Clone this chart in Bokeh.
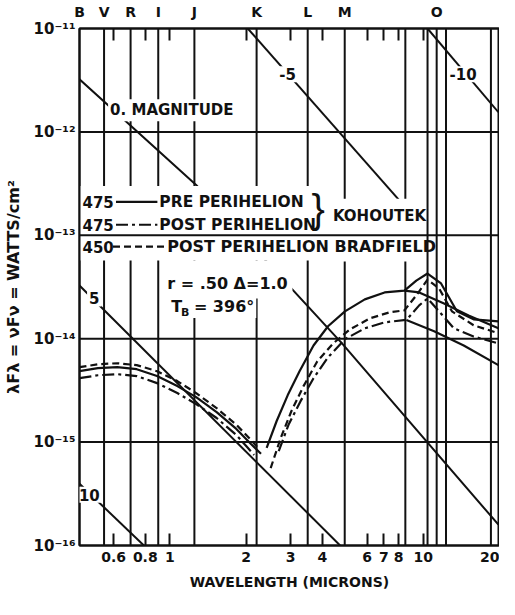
import numpy as np
from bokeh.plotting import figure
from bokeh.models import (FixedTicker, CustomJSTickFormatter, LogAxis, Span, Label, Range1d)
from bokeh.embed import file_html
from bokeh.resources import INLINE

# ---------------- data ----------------
band_names = ["B", "V", "R", "I", "J", "K", "L", "M", "O"]
band_label_wl = [0.4405, 0.55, 0.70, 0.90, 1.25, 2.2, 3.5, 4.9, 11.3]
filter_lines_wl = [0.55, 0.70, 0.90, 1.25, 2.2, 3.5, 4.9, 8.5, 10.4, 11.3, 12.3, 18.5]
x_ticks = [0.6, 0.8, 1, 2, 3, 4, 6, 7, 8, 10, 20]
x_tick_labels = ["0.6", "0.8", "1", "2", "3", "4", "6", "7", "8", "10", "20"]
y_ticks = [1e-16, 1e-15, 1e-14, 1e-13, 1e-12, 1e-11]
y_tick_labels = ["10\u207b\u00b9\u2076", "10\u207b\u00b9\u2075", "10\u207b\u00b9\u2074",
                 "10\u207b\u00b9\u00b3", "10\u207b\u00b9\u00b2", "10\u207b\u00b9\u00b9"]
grid_flux = [1e-12, 1e-13, 1e-14, 1e-15]

# magnitude reference lines (wavelength in microns, lambda F_lambda in W/cm^2)
mag0_wl = [0.44, 1.27, 4.78, 19.8]
mag0_f = [3.23e-12, 3.07e-13, 9.0e-15, 1.59e-16]
mag5_wl = [0.44, 4.70]
mag5_f = [3.27e-14, 1.0e-16]
mag10_wl = [0.44, 0.79]
mag10_f = [3.95e-16, 1.0e-16]
magm5_wl = [2.03, 8.28]
magm5_f = [1.0e-11, 2.01e-13]
magm10_wl = [10.4, 19.8]
magm10_f = [1.0e-11, 1.55e-12]

# Kohoutek 475 pre perihelion (solid)
pre_refl_wl = [0.44, 0.52, 0.62, 0.74, 0.89, 1.07, 1.27, 1.53, 1.83, 2.09, 2.29]
pre_refl_f = [4.85e-15, 5.19e-15, 5.30e-15, 5.07e-15, 4.35e-15, 3.48e-15, 2.72e-15,
              1.95e-15, 1.34e-15, 9.6e-16, 7.7e-16]
pre_therm_wl = [2.41, 2.64, 2.92, 3.25, 3.69, 4.21, 4.91, 5.88, 7.04, 8.43, 9.39, 10.4,
                11.76, 13.58, 15.8, 19.8]
pre_therm_f = [8.8e-16, 1.60e-15, 2.85e-15, 4.85e-15, 8.6e-15, 1.32e-14, 1.84e-14, 2.40e-14,
               2.80e-14, 2.92e-14, 3.65e-14, 4.27e-14, 3.42e-14, 1.84e-14, 1.54e-14, 1.47e-14]
pre_smooth_wl = [8.43, 9.64, 12.08, 15.1, 19.8]
pre_smooth_f = [2.92e-14, 2.80e-14, 2.19e-14, 1.68e-14, 1.26e-14]

# Kohoutek 475 post perihelion (dash-dot)
post_refl_wl = [0.44, 0.52, 0.62, 0.74, 0.89, 1.07, 1.27, 1.53, 1.83, 2.03, 2.15]
post_refl_f = [4.15e-15, 4.43e-15, 4.54e-15, 4.35e-15, 3.72e-15, 2.98e-15, 2.33e-15,
               1.71e-15, 1.17e-15, 8.8e-16, 7.5e-16]
post_therm_wl = [2.69, 2.94, 3.28, 3.69, 4.21, 4.91, 5.88, 7.04, 8.58, 9.64, 10.4, 11.55,
                 13.2, 15.8, 19.8]
post_therm_f = [8.2e-16, 1.47e-15, 2.49e-15, 4.15e-15, 6.6e-15, 9.9e-15, 1.26e-14, 1.44e-14,
                1.52e-14, 2.10e-14, 2.45e-14, 1.84e-14, 1.26e-14, 1.05e-14, 9.0e-15]
post_smooth_wl = [8.58, 11.04, 14.45, 19.8]
post_smooth_f = [1.52e-14, 1.18e-14, 8.6e-15, 5.55e-15]

# Bradfield 450 post perihelion (dashed)
brad_refl_wl = [0.44, 0.52, 0.62, 0.74, 0.89, 1.07, 1.27, 1.53, 1.83, 2.09, 2.23]
brad_refl_f = [5.30e-15, 5.66e-15, 5.79e-15, 5.55e-15, 4.85e-15, 3.89e-15, 2.98e-15,
               2.13e-15, 1.47e-15, 1.05e-15, 8.8e-16]
brad_therm_wl = [2.50, 2.74, 3.02, 3.37, 3.82, 4.41, 5.14, 6.15, 7.36, 8.43, 9.39, 10.4,
                 11.55, 12.98, 15.8, 19.8]
brad_therm_f = [5.6e-16, 1.10e-15, 2.0e-15, 3.48e-15, 6.05e-15, 9.0e-15, 1.23e-14, 1.57e-14,
                1.80e-14, 1.88e-14, 2.62e-14, 3.73e-14, 3.06e-14, 1.84e-14, 1.35e-14, 1.13e-14]

# ---------------- figure ----------------
X0, X1 = 0.44, 20.0
Y0, Y1 = 1e-16, 1e-11
FW, FH = 426, 519
FONT = "DejaVu Sans"
INK = "#111111"


def at(px, py):
    lam = 10 ** (np.log10(X0) + px / FW * np.log10(X1 / X0))
    f = 10 ** (np.log10(Y1) - py / FH * np.log10(Y1 / Y0))
    return float(lam), float(f)


p = figure(width=499, height=599, x_axis_type="log", y_axis_type="log",
           x_range=Range1d(X0, X1), y_range=Range1d(Y0, Y1),
           output_backend="svg", toolbar_location=None,
           min_border_left=73, min_border_right=0, min_border_top=26, min_border_bottom=54)
p.xgrid.visible = False
p.ygrid.visible = False
p.outline_line_color = INK
p.outline_line_width = 2
p.background_fill_color = "white"
p.border_fill_color = "white"

fmt_code = """
for (let i = 0; i < tv.length; i++) {
  if (Math.abs(tv[i] - tick) <= 1e-6 * Math.abs(tv[i])) return tl[i];
}
return "";
"""

xa = p.xaxis[0]
xa.ticker = FixedTicker(ticks=x_ticks, minor_ticks=[])
xa.formatter = CustomJSTickFormatter(args=dict(tv=x_ticks, tl=x_tick_labels), code=fmt_code)
xa.major_tick_in = 12
xa.major_tick_out = 0
xa.major_tick_line_width = 2
xa.major_tick_line_color = INK
xa.axis_line_width = 2
xa.axis_line_color = INK
xa.major_label_standoff = 6
xa.major_label_text_font = FONT
xa.major_label_text_font_style = "bold"
xa.major_label_text_font_size = "14px"
xa.major_label_text_color = INK
xa.axis_label = "WAVELENGTH (MICRONS)"
xa.axis_label_text_font = FONT
xa.axis_label_text_font_style = "bold"
xa.axis_label_text_font_size = "14px"
xa.axis_label_text_color = INK
xa.axis_label_standoff = 9

ya = p.yaxis[0]
ya.ticker = FixedTicker(ticks=y_ticks, minor_ticks=[])
ya.formatter = CustomJSTickFormatter(args=dict(tv=y_ticks, tl=y_tick_labels), code=fmt_code)
ya.major_tick_in = 0
ya.major_tick_out = 0
ya.axis_line_width = 2
ya.axis_line_color = INK
ya.major_label_standoff = 4
ya.major_label_text_font = FONT
ya.major_label_text_font_style = "bold"
ya.major_label_text_font_size = "15px"
ya.major_label_text_color = INK
ya.axis_label = "\u03bbF\u03bb = \u03bdF\u03bd = WATTS/cm\u00b2"
ya.axis_label_text_font = FONT
ya.axis_label_text_font_style = "bold"
ya.axis_label_text_font_size = "16px"
ya.axis_label_text_color = INK
ya.axis_label_standoff = 8

top = LogAxis(ticker=FixedTicker(ticks=band_label_wl, minor_ticks=x_ticks),
              formatter=CustomJSTickFormatter(args=dict(tv=band_label_wl, tl=band_names),
                                              code=fmt_code))
top.major_tick_in = 0
top.major_tick_out = 0
top.minor_tick_in = 12
top.minor_tick_out = 0
top.minor_tick_line_width = 2
top.minor_tick_line_color = INK
top.axis_line_width = 2
top.axis_line_color = INK
top.major_label_standoff = 9
top.major_label_text_font = FONT
top.major_label_text_font_style = "bold"
top.major_label_text_font_size = "14px"
top.major_label_text_color = INK
p.add_layout(top, "above")

# vertical filter lines (below everything)
for wl in filter_lines_wl:
    p.add_layout(Span(location=wl, dimension="height", line_color=INK, line_width=2,
                      level="underlay"))

# magnitude lines
for wl, fl in [(mag0_wl, mag0_f), (mag5_wl, mag5_f), (mag10_wl, mag10_f),
               (magm5_wl, magm5_f), (magm10_wl, magm10_f)]:
    p.line(wl, fl, line_color=INK, line_width=2)

SOLID = "solid"
DASHDOT = "12 4 3 4"
DASHED = "7 4"
CW = 2.2
for wl, fl, dash in [(pre_refl_wl, pre_refl_f, SOLID), (pre_therm_wl, pre_therm_f, SOLID),
                     (pre_smooth_wl, pre_smooth_f, SOLID),
                     (post_refl_wl, post_refl_f, DASHDOT), (post_therm_wl, post_therm_f, DASHDOT),
                     (post_smooth_wl, post_smooth_f, SOLID),
                     (brad_refl_wl, brad_refl_f, DASHED), (brad_therm_wl, brad_therm_f, DASHED)]:
    p.line(wl, fl, line_color=INK, line_width=CW, line_dash=dash)

# white panels behind the legend and the parameter notes
for (l, t), (r, b) in [(at(0, 158), at(254, 233)), (at(254, 171), at(351, 234)),
                       (at(89, 233), at(216, 271))]:
    p.quad(left=[l], right=[r], top=[t], bottom=[b], fill_color="white", line_color=None)

# legend sample lines
legend_rows = [("475", "PRE  PERIHELION", SOLID, 174, 37, 79, 81),
               ("475", "POST  PERIHELION", DASHDOT, 197, 37, 79, 81),
               ("450", "POST  PERIHELION  BRADFIELD", DASHED, 219, 34, 87, 89)]
for num, txt, dash, py, lx0, lx1, tx in legend_rows:
    a, fy = at(lx0, py)
    b, _ = at(lx1, py)
    p.line([a, b], [fy, fy], line_color=INK, line_width=CW, line_dash=dash)

# horizontal decade lines
for f in grid_flux:
    p.add_layout(Span(location=f, dimension="width", line_color=INK, line_width=2))


def lab(px, py, text, size="15px", align="left", style="bold", bg=True, xoff=0, yoff=0,
        font=FONT):
    x, y = at(px, py)
    kw = dict(x=x, y=y, text=text, text_font=font, text_font_size=size,
              text_font_style=style, text_color=INK, text_align=align,
              text_baseline="middle", x_offset=xoff, y_offset=yoff)
    if bg:
        kw.update(background_fill_color="white", background_fill_alpha=1.0, padding=2)
    p.add_layout(Label(**kw))


for num, txt, dash, py, lx0, lx1, tx in legend_rows:
    lab(3, py, num, size="15px", bg=False)
    lab(tx, py, txt, size="15.5px" if num == "475" else "16px", bg=False)
lab(242, 181, "}", size="40px", style="normal", align="center", bg=False,
    font="Liberation Sans")
lab(257, 188, "KOHOUTEK", size="15px", bg=False)

lab(29, 82, "0. MAGNITUDE")
lab(211, 46, "-5", align="center")
lab(389, 46, "-10", align="center")
lab(15, 271, "5", align="center")
lab(10, 468, "10", align="center")
lab(89, 256, "r = .50  \u0394=1.0", size="16px", bg=False)
lab(91, 279, "T", size="16px")
lab(103, 285, "B", size="11px", bg=False)
lab(114, 279, "= 396\u00b0", size="16px")

open("out.html", "w").write(file_html(p, INLINE))
